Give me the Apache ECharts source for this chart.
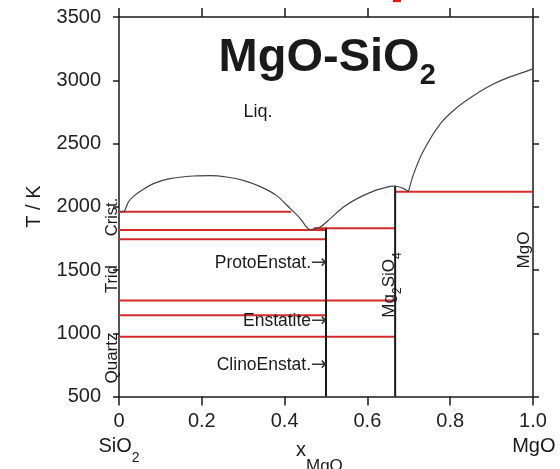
<!DOCTYPE html>
<html>
<head>
<meta charset="utf-8">
<script src="https://cdn.jsdelivr.net/npm/echarts@6/dist/echarts.min.js"></script>
<style>
  html, body { margin: 0; padding: 0; background: #ffffff; }
  #chart { width: 560px; height: 469px; }
</style>
</head>
<body>
<div id="chart"></div>
<script>
const FONT = '"Liberation Sans", Arial, Helvetica, sans-serif';
const ARROW_FONT = '"DejaVu Sans", sans-serif';
const INK = '#1a1a1a';
const RED = '#d62a2a';
const CURVE = '#444444';

// Axis ticks
const xTicks = [0, 0.2, 0.4, 0.6, 0.8, 1.0];
const xTickLabels = ['0', '0.2', '0.4', '0.6', '0.8', '1.0'];
const yTicks = [500, 1000, 1500, 2000, 2500, 3000, 3500];

// Liquidus, SiO2-rich side (immiscibility dome down to the eutectic), [x_MgO, T/K]
const liquidusSilica = [
  [0.003, 1962], [0.011, 1962], [0.0225, 2037], [0.035, 2082], [0.055, 2130],
  [0.083, 2183], [0.123, 2222], [0.18, 2243], [0.22, 2246], [0.26, 2235],
  [0.30, 2209], [0.34, 2161], [0.38, 2090], [0.414, 1985], [0.438, 1906],
  [0.454, 1835], [0.462, 1818]
];
// Liquidus between the eutectic and the Mg2SiO4 / MgO eutectic
const liquidusMid = [
  [0.462, 1818], [0.486, 1840], [0.51, 1906], [0.5425, 1998], [0.575, 2064],
  [0.615, 2124], [0.655, 2161], [0.667, 2164], [0.688, 2143], [0.699, 2118]
];
// Liquidus on the MgO side
const liquidusPericlase = [
  [0.699, 2118], [0.712, 2262], [0.736, 2446], [0.776, 2656], [0.817, 2787],
  [0.857, 2880], [0.897, 2959], [0.938, 3019], [0.978, 3064], [1.0, 3090]
];

// Invariant and transition isotherms
const tieTemps = [1960, 1816, 1743, 1258, 1143, 972, 1830, 2118];
const tieFrom  = [0, 0, 0, 0, 0, 0, 0.47, 0.667];
const tieTo    = [0.416, 0.5, 0.5, 0.667, 0.5, 0.667, 0.667, 1.0];

// Stoichiometric compounds: MgSiO3 and Mg2SiO4
const compoundX   = [0.5, 0.667];
const compoundTop = [1830, 2164];

const chart = echarts.init(document.getElementById('chart'), null, { renderer: 'canvas' });

const axisLine = { show: true, onZero: false, lineStyle: { color: INK, width: 1.5 } };
const xTickStyle = { show: true, inside: false, length: 9, lineStyle: { color: INK, width: 1.5 } };
const yTickStyle = { show: true, inside: false, length: 6, lineStyle: { color: INK, width: 1.5 } };

const series = [];
tieTemps.forEach((T, i) => {
  series.push({
    type: 'line', data: [[tieFrom[i], T], [tieTo[i], T]],
    symbol: 'none', silent: true, z: 2,
    lineStyle: { color: RED, width: 2 }
  });
});
compoundX.forEach((x, i) => {
  series.push({
    type: 'line', data: [[x, yTicks[0]], [x, compoundTop[i]]],
    symbol: 'none', silent: true, z: 3,
    lineStyle: { color: INK, width: 2 }
  });
});
[liquidusSilica, liquidusMid, liquidusPericlase].forEach(d => {
  series.push({
    type: 'line', data: d, smooth: 0.3,
    symbol: 'none', silent: true, z: 4,
    lineStyle: { color: CURVE, width: 1.2 }
  });
});

const txt = (x, y, text, size, opts = {}) => Object.assign({
  type: 'text', x, y, silent: true, z: 10,
  style: Object.assign({
    text, fontSize: size, fontFamily: FONT, fill: INK,
    align: 'center', verticalAlign: 'middle'
  }, opts.style || {})
}, opts.el || {});

const tok = (size, extra) => Object.assign({ fontSize: size, fontFamily: FONT, fill: INK }, extra);

// phase label followed by an arrow pointing at the MgSiO3 line
const arrowLabel = (y, name) => ({
  type: 'text', x: 327, y, silent: true, z: 10,
  style: {
    text: '{t|' + name + '}{a|\u2192}', align: 'right', verticalAlign: 'middle',
    rich: {
      t: tok(17.5, { lineHeight: 20 }),
      a: { fontSize: 19, fontFamily: ARROW_FONT, fill: '#333', lineHeight: 20 }
    }
  }
});

const graphic = [
  // title with subscript
  {
    type: 'text', x: 218.6, y: 34.7, silent: true, z: 10,
    style: {
      text: '{m|MgO-SiO}{s|2}', align: 'left', verticalAlign: 'top',
      rich: {
        m: tok(47, { fontWeight: 'bold', lineHeight: 50, verticalAlign: 'top' }),
        s: tok(29, { fontWeight: 'bold', lineHeight: 30, verticalAlign: 'top', padding: [27, 0, 0, 0] })
      }
    }
  },
  txt(258, 112, 'Liq.', 18),
  arrowLabel(263.4, 'ProtoEnstat.'),
  arrowLabel(320.8, 'Enstatite'),
  arrowLabel(364.8, 'ClinoEnstat.'),
  txt(112.8, 217, 'Crist.', 16.5, { el: { rotation: Math.PI / 2 } }),
  txt(112.8, 279, 'Trid', 16.5, { el: { rotation: Math.PI / 2 } }),
  txt(112.8, 358, 'Quartz', 17, { el: { rotation: Math.PI / 2 } }),
  txt(524, 250, 'MgO', 17, { el: { rotation: Math.PI / 2 } }),
  {
    type: 'text', x: 391, y: 285, rotation: Math.PI / 2, silent: true, z: 10,
    style: {
      text: '{m|Mg}{s|2}{m|SiO}{s|4}', align: 'center', verticalAlign: 'middle',
      rich: {
        m: tok(17, { lineHeight: 20, verticalAlign: 'top' }),
        s: tok(12, { lineHeight: 12, verticalAlign: 'top', padding: [11, 0, 0, 0] })
      }
    }
  },
  // y axis title
  txt(34.6, 206.6, 'T / K', 20, { el: { rotation: Math.PI / 2 } }),
  // end-member names under the composition axis
  {
    type: 'text', x: 119, y: 448.5, silent: true, z: 10,
    style: {
      text: '{m|SiO}{s|2}', align: 'center', verticalAlign: 'middle',
      rich: {
        m: tok(20, { lineHeight: 24, verticalAlign: 'top' }),
        s: tok(14, { lineHeight: 14, verticalAlign: 'top', padding: [15, 0, 0, 0] })
      }
    }
  },
  txt(533.8, 446, 'MgO', 20),
  // composition axis title
  {
    type: 'text', x: 296, y: 440.4, silent: true, z: 10,
    style: {
      text: '{m|x}{s|MgO}', align: 'left', verticalAlign: 'top',
      rich: {
        m: tok(20, { lineHeight: 24, verticalAlign: 'top' }),
        s: tok(17, { lineHeight: 18, verticalAlign: 'top', padding: [17, 0, 0, 0] })
      }
    }
  },
  // small red fragment at the upper edge
  { type: 'rect', silent: true, shape: { x: 393, y: 0, width: 8, height: 2.2 }, style: { fill: '#e8141a' } }
];

chart.setOption({
  animation: false,
  backgroundColor: '#ffffff',
  grid: { left: 119, right: 27, top: 17, bottom: 72.5, containLabel: false },
  xAxis: [
    {
      type: 'value', position: 'bottom', min: 0, max: 1, interval: 0.2,
      axisLine, axisTick: xTickStyle, splitLine: { show: false },
      axisLabel: {
        margin: 15, fontSize: 20, color: '#222', fontFamily: FONT,
        showMinLabel: true, showMaxLabel: true,
        formatter: v => {
          const i = xTicks.findIndex(t => Math.abs(t - v) < 1e-6);
          return i >= 0 ? xTickLabels[i] : '';
        }
      }
    },
    {
      type: 'value', position: 'top', min: 0, max: 1, interval: 0.2,
      axisLine, axisTick: xTickStyle, splitLine: { show: false },
      axisLabel: { show: false }
    }
  ],
  yAxis: [
    {
      type: 'value', position: 'left', min: yTicks[0], max: yTicks[yTicks.length - 1], interval: 500,
      axisLine, axisTick: yTickStyle, splitLine: { show: false },
      axisLabel: {
        margin: 18, fontSize: 20, color: '#222', fontFamily: FONT,
        showMinLabel: true, showMaxLabel: true,
        formatter: v => String(v)
      }
    },
    {
      type: 'value', position: 'right', min: yTicks[0], max: yTicks[yTicks.length - 1], interval: 500,
      axisLine, axisTick: yTickStyle, splitLine: { show: false },
      axisLabel: { show: false }
    }
  ],
  series,
  graphic
});
</script>
</body>
</html>
